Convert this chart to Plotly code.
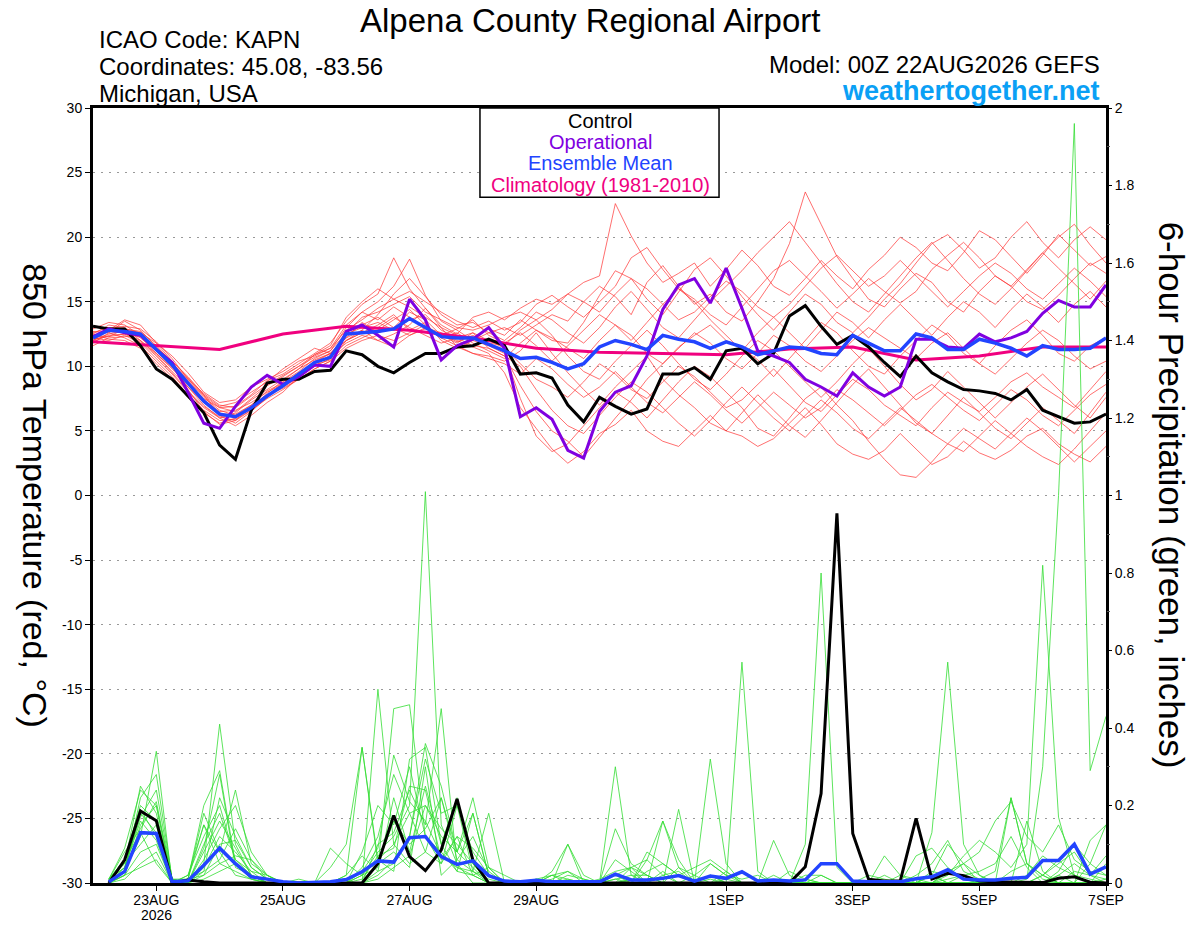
import pandas as pd
import plotly.graph_objects as go

# 6-hourly forecast steps, 00Z 22AUG2026 -> 00Z 07SEP2026
times = pd.date_range("2026-08-22 00:00", periods=65, freq="6h")
precip_times = times[1:]
clim_days = pd.date_range("2026-08-22", periods=17, freq="D")

# 850 hPa temperature (C)
control_temp = [13.1, 12.9, 12.9, 11.6, 9.8, 9.0, 7.7, 6.4, 3.9, 2.8, 6.6, 8.7, 9.0,
                9.0, 9.6, 9.7, 11.2, 10.9, 10.0, 9.5, 10.3, 11.0, 11.0, 11.5, 11.6, 12.1,
                11.6, 9.4, 9.5, 9.1, 7.0, 5.7, 7.6, 6.9, 6.3, 6.7, 9.4, 9.4, 9.9,
                9.0, 11.2, 11.4, 10.2, 11.0, 13.9, 14.7, 13.1, 11.7, 12.4, 11.5, 10.3, 9.2,
                10.8, 9.5, 8.8, 8.2, 8.1, 7.9, 7.4, 8.2, 6.6, 6.1, 5.6, 5.7, 6.3]
oper_temp = [12.3, 12.9, 12.6, 12.4, 11.3, 10.3, 8.0, 5.6, 5.2, 6.9, 8.4, 9.3, 8.6,
             9.2, 10.1, 10.0, 12.7, 13.2, 12.4, 11.5, 15.2, 13.6, 10.5, 11.6, 12.1, 13.0,
             11.4, 6.1, 6.8, 5.9, 3.5, 2.9, 6.5, 8.0, 8.5, 10.8, 14.4, 16.3, 16.8,
             14.9, 17.6, 14.5, 11.2, 10.8, 10.3, 9.0, 8.4, 7.7, 9.5, 8.4, 7.7, 8.4,
             12.1, 12.1, 11.5, 11.4, 12.5, 11.9, 12.2, 12.7, 14.1, 15.1, 14.6, 14.6, 16.3]
mean_temp = [12.2, 12.8, 12.7, 12.5, 11.3, 10.1, 8.7, 7.3, 6.3, 6.1, 6.8, 7.7, 8.5,
             9.4, 10.3, 10.7, 12.5, 12.6, 12.7, 12.9, 13.7, 13.0, 12.3, 12.2, 12.2, 11.7,
             11.2, 10.6, 10.7, 10.3, 9.8, 10.2, 11.5, 12.0, 11.7, 11.3, 12.4, 12.1, 11.9,
             11.4, 11.9, 11.5, 10.9, 11.2, 11.5, 11.4, 11.0, 10.9, 12.4, 11.8, 11.2, 11.2,
             12.5, 12.2, 11.3, 11.3, 12.1, 11.8, 11.4, 10.8, 11.6, 11.3, 11.3, 11.4, 12.2]
clim_temp = [11.9, 11.6, 11.3, 12.5, 13.1, 12.8, 12.2, 11.4, 11.1, 11.0, 10.9,
             11.35, 11.5, 10.5, 10.8, 11.5, 11.5]

temp_members = [
    [12.5, 13.2, 13.0, 12.0, 11.0, 9.8, 8.6, 7.5, 6.8, 6.9, 7.8, 8.9, 9.4,
     10.2, 11.0, 11.8, 13.5, 14.8, 15.6, 18.4, 16.0, 14.5, 13.2, 12.5, 13.8, 14.2,
     13.6, 14.5, 15.2, 14.8, 15.6, 16.5, 17.0, 22.6, 20.1, 18.0, 16.5, 17.2, 18.0,
     16.2, 17.5, 19.0, 17.8, 16.2, 15.5, 16.8, 18.2, 17.0, 16.0, 17.5, 18.6, 20.0,
     19.2, 18.0, 17.4, 18.8, 20.5, 19.8, 18.5, 17.2, 18.6, 20.2, 19.0, 17.8, 18.5],
    [12.0, 12.5, 12.8, 12.2, 11.2, 10.0, 8.2, 6.5, 5.5, 5.8, 6.9, 7.8, 8.3,
     9.0, 9.8, 10.4, 12.0, 12.8, 12.0, 11.5, 12.4, 13.0, 12.6, 12.0, 11.5, 11.0,
     9.5, 6.8, 5.2, 3.6, 2.5, 3.4, 4.8, 5.5, 6.6, 5.0, 4.2, 3.8, 5.0,
     6.2, 5.0, 4.6, 3.8, 4.4, 5.6, 6.8, 5.5, 4.0, 3.2, 2.8, 3.5, 4.8,
     3.6, 2.4, 3.0, 4.2, 3.3, 2.8, 3.5, 4.6, 5.2, 4.0, 3.2, 2.6, 3.8],
    [11.8, 12.6, 13.5, 12.8, 11.5, 10.4, 9.2, 7.8, 6.2, 5.6, 6.5, 7.6, 8.8,
     9.6, 10.6, 11.2, 13.0, 14.2, 15.0, 16.2, 18.3, 15.5, 13.5, 12.8, 12.0, 12.6,
     13.0, 12.4, 13.2, 14.0, 13.5, 15.0, 16.2, 15.4, 14.0, 16.5, 17.8, 16.2, 14.8,
     15.6, 14.2, 13.5, 15.0, 16.8, 19.5, 23.5, 21.0, 18.5, 16.8, 15.2, 14.6, 16.0,
     17.2, 16.5, 15.0, 14.2, 15.8, 17.0, 16.2, 15.0, 14.4, 15.5, 16.8, 18.0, 17.2],
    [12.2, 12.0, 12.4, 11.8, 10.6, 9.4, 8.0, 6.8, 6.0, 6.4, 7.4, 8.2, 9.0,
     9.8, 10.5, 11.0, 12.2, 13.4, 12.6, 13.0, 14.2, 13.6, 12.4, 11.8, 12.6, 12.0,
     11.4, 10.2, 9.0, 8.4, 7.6, 8.8, 10.2, 9.4, 8.2, 7.5, 8.8, 10.0, 9.2,
     8.0, 6.8, 7.4, 8.6, 9.8, 8.5, 7.2, 6.5, 7.8, 9.0, 8.2, 7.0, 6.2,
     5.4, 6.8, 8.0, 7.2, 6.5, 7.6, 8.8, 9.5, 8.4, 7.6, 6.8, 8.2, 9.6],
    [12.6, 13.0, 12.9, 12.6, 11.8, 10.8, 9.5, 8.0, 7.2, 7.4, 8.4, 9.0, 9.6,
     10.4, 10.8, 11.4, 12.8, 13.6, 14.5, 15.2, 15.8, 15.0, 14.2, 13.5, 13.0, 13.5,
     12.8, 13.4, 14.8, 15.5, 14.6, 13.8, 15.0, 16.2, 18.4, 19.2, 17.5, 16.0, 15.2,
     14.0, 13.2, 14.6, 16.0, 17.4, 18.2, 17.0, 15.8, 14.5, 15.6, 16.8, 15.8, 14.9,
     15.8, 17.5, 18.6, 19.6, 18.4, 17.0, 16.2, 17.5, 18.8, 17.6, 16.4, 15.2, 16.6],
    [12.4, 12.7, 12.6, 12.0, 10.9, 9.6, 8.4, 7.0, 6.0, 5.4, 6.2, 7.2, 8.0,
     9.2, 10.0, 10.6, 12.5, 13.0, 13.4, 12.8, 13.6, 14.0, 12.8, 12.2, 12.6, 11.4,
     10.8, 8.5, 6.5, 5.0, 4.2, 3.0, 4.5, 6.0, 7.4, 9.0, 10.2, 11.5, 12.4,
     13.2, 12.0, 11.4, 10.5, 9.2, 10.6, 12.0, 13.4, 12.6, 11.2, 10.0, 9.4, 10.8,
     12.0, 13.2, 12.4, 11.0, 10.2, 11.6, 12.8, 13.6, 12.4, 11.0, 10.4, 11.6, 12.2],
    [11.6, 12.2, 12.3, 12.4, 11.2, 10.2, 8.8, 7.4, 6.5, 6.6, 7.2, 8.0, 8.6,
     9.4, 10.2, 10.8, 11.8, 12.4, 12.0, 12.5, 13.2, 14.5, 13.0, 11.5, 11.0, 10.8,
     10.4, 11.2, 12.6, 11.0, 9.5, 8.2, 7.0, 8.4, 9.6, 10.8, 9.0, 7.8, 6.8,
     5.6, 5.0, 6.4, 7.8, 6.6, 5.4, 4.5, 5.8, 7.2, 8.6, 9.8, 8.4, 7.0,
     5.6, 4.8, 6.2, 7.6, 6.4, 5.2, 4.4, 5.6, 6.8, 5.8, 4.8, 6.4, 8.0],
    [12.9, 13.4, 13.2, 12.4, 11.4, 10.0, 8.4, 7.2, 6.4, 6.0, 6.8, 7.9, 8.9,
     9.8, 10.9, 11.6, 13.8, 15.0, 16.0, 15.2, 14.6, 13.8, 13.0, 12.4, 12.2, 12.9,
     12.4, 13.6, 12.8, 12.0, 11.8, 13.4, 15.5, 17.4, 16.8, 15.2, 14.0, 15.8, 17.5,
     18.4, 17.0, 15.4, 14.0, 12.8, 14.2, 15.6, 14.8, 13.4, 12.6, 13.8, 15.2, 16.4,
     18.0, 19.5, 20.2, 19.0, 17.6, 18.4, 20.0, 21.2, 19.6, 18.4, 19.8, 20.8, 19.8],
    [12.1, 12.3, 12.9, 12.7, 11.6, 10.3, 8.9, 7.6, 6.6, 6.2, 7.0, 8.1, 8.7,
     9.5, 10.3, 11.0, 12.0, 12.6, 13.2, 14.0, 12.8, 13.4, 12.0, 11.4, 12.0, 11.6,
     11.0, 7.5, 4.6, 3.4, 4.0, 5.4, 6.8, 8.0, 7.2, 6.0, 7.4, 8.8, 10.0,
     9.2, 8.0, 6.8, 5.2, 4.6, 6.0, 7.5, 8.4, 7.0, 5.8, 4.2, 2.8, 1.6,
     1.4, 2.6, 4.0, 5.2, 4.4, 3.6, 4.8, 6.0, 5.0, 3.8, 2.6, 3.8, 5.0],
    [12.3, 12.9, 13.1, 12.9, 11.9, 10.6, 9.0, 7.7, 6.8, 6.5, 7.5, 8.5, 9.2,
     10.0, 10.7, 11.2, 12.6, 13.8, 14.2, 14.8, 15.4, 14.2, 13.6, 13.0, 12.8, 13.2,
     13.8, 14.2, 13.6, 14.4, 15.6, 15.0, 14.2, 15.6, 16.8, 16.0, 14.8, 13.6, 14.2,
     15.4, 16.6, 15.8, 14.6, 13.8, 14.8, 16.2, 17.6, 18.6, 17.4, 16.2, 17.0, 18.2,
     17.0, 15.8, 14.6, 15.8, 17.0, 18.0, 17.2, 16.0, 15.2, 16.4, 17.6, 16.6, 15.4],
    [11.9, 12.4, 12.5, 12.3, 11.0, 9.9, 8.6, 7.2, 6.3, 6.3, 7.0, 7.8, 8.4,
     9.1, 10.1, 10.5, 11.6, 12.2, 12.8, 13.6, 14.4, 13.2, 12.2, 12.6, 11.8, 11.2,
     10.6, 11.8, 12.8, 12.2, 11.4, 10.6, 12.0, 13.2, 12.4, 11.0, 10.2, 11.4, 12.6,
     11.8, 10.6, 9.8, 11.0, 12.4, 11.6, 10.4, 9.6, 10.8, 12.0, 13.0, 12.2, 11.4,
     10.6, 11.8, 12.6, 11.4, 10.2, 9.4, 10.6, 11.8, 12.8, 12.0, 10.8, 9.8, 10.4],
    [12.7, 12.6, 12.2, 11.6, 10.4, 9.2, 7.8, 6.6, 5.8, 5.9, 6.6, 7.6, 8.6,
     9.4, 10.4, 11.0, 12.4, 13.2, 13.8, 13.0, 12.4, 12.9, 12.5, 11.9, 12.4, 11.8,
     11.6, 12.8, 13.6, 12.4, 10.8, 9.6, 9.0, 10.4, 11.6, 12.8, 11.6, 10.2, 9.0,
     8.2, 9.4, 10.8, 12.0, 11.2, 10.0, 8.8, 7.6, 8.8, 10.2, 11.4, 10.0, 8.6,
     7.4, 8.2, 9.6, 8.4, 7.2, 6.0, 7.2, 8.4, 9.4, 8.2, 7.0, 6.0, 7.6],
    [12.0, 12.8, 13.6, 13.2, 11.8, 10.4, 9.1, 7.8, 6.9, 7.2, 8.0, 8.8, 9.8,
     10.6, 11.4, 11.0, 12.2, 12.8, 14.0, 15.6, 16.8, 15.4, 14.0, 13.2, 13.4, 12.6,
     12.0, 13.0, 14.2, 13.6, 12.6, 11.8, 13.0, 14.6, 15.8, 14.4, 13.0, 12.2, 13.6,
     15.0, 16.2, 17.4, 18.8, 20.0, 21.2, 19.6, 18.0, 16.4, 15.0, 14.2, 15.6, 17.0,
     18.4, 19.6, 18.2, 16.8, 15.6, 14.8, 16.0, 17.4, 18.8, 20.0, 21.0, 19.4, 18.0],
    [12.4, 12.3, 12.5, 11.9, 10.8, 9.5, 8.1, 6.9, 6.1, 5.8, 6.6, 7.5, 8.2,
     9.0, 9.8, 10.4, 11.4, 12.0, 12.4, 12.0, 12.6, 13.2, 12.2, 11.6, 11.0, 10.6,
     10.2, 9.4, 10.6, 9.8, 8.6, 7.6, 8.4, 9.6, 8.4, 7.2, 6.4, 7.6, 8.8,
     7.8, 6.6, 5.6, 6.8, 8.0, 7.0, 6.0, 6.8, 8.2, 7.4, 6.4, 5.4, 6.6,
     7.8, 8.6, 7.6, 6.6, 5.8, 7.0, 8.2, 7.4, 6.2, 5.4, 6.6, 7.8, 8.6],
    [12.2, 13.0, 12.8, 12.6, 11.4, 10.2, 9.0, 7.9, 7.0, 6.8, 7.7, 8.6, 9.3,
     10.0, 10.9, 11.4, 13.2, 14.2, 13.6, 14.6, 13.8, 13.0, 12.4, 12.9, 13.6, 12.4,
     11.8, 12.6, 11.6, 10.4, 11.6, 12.8, 14.0, 13.2, 12.0, 13.4, 14.8, 16.0, 15.0,
     13.6, 12.4, 11.2, 12.6, 13.8, 12.6, 11.4, 12.8, 14.2, 13.4, 12.2, 13.6, 14.8,
     13.6, 12.4, 13.8, 15.0, 14.2, 13.0, 14.4, 15.6, 14.6, 13.4, 14.8, 15.8, 14.6],
    [12.5, 12.1, 12.0, 11.4, 10.2, 9.0, 7.6, 6.4, 5.6, 6.0, 6.9, 7.7, 8.5,
     9.3, 10.0, 10.9, 12.0, 12.6, 13.0, 13.8, 13.0, 12.4, 11.8, 12.2, 11.6, 11.4,
     10.8, 10.0, 8.2, 6.6, 5.4, 4.8, 6.2, 7.6, 8.8, 8.0, 6.8, 5.6, 4.6,
     5.8, 7.2, 8.4, 7.2, 6.0, 5.0, 6.2, 7.4, 6.4, 5.2, 4.4, 5.6, 6.8,
     5.8, 4.8, 4.0, 3.4, 4.6, 5.8, 4.8, 3.8, 3.0, 2.4, 3.6, 5.0, 6.4],
]

# 6-hour precipitation (inches), 06Z 22AUG onward
control_precip = [0, 0.06, 0.186, 0.161, 0, 0.008, 0.003, 0, 0, 0, 0, 0, 0, 0, 0, 0,
                  0, 0.05, 0.174, 0.068, 0.032, 0.085, 0.217, 0.059, 0, 0, 0, 0, 0, 0, 0, 0,
                  0, 0, 0, 0, 0, 0, 0, 0, 0, 0, 0, 0, 0.042, 0.231, 0.954, 0.128,
                  0.01, 0.005, 0.005, 0.167, 0.01, 0.025, 0.019, 0.005, 0.003, 0.002, 0.001, 0.001, 0.012, 0.016, 0.002, 0]
mean_precip = [0.003, 0.03, 0.13, 0.128, 0.003, 0.006, 0.046, 0.09, 0.05, 0.016, 0.01, 0.003, 0, 0.001, 0.003, 0.009,
               0.029, 0.057, 0.054, 0.117, 0.12, 0.068, 0.048, 0.057, 0.019, 0.005, 0.003, 0.007, 0.003, 0.003, 0.003, 0.003,
               0.023, 0.008, 0.008, 0.012, 0.019, 0.005, 0.018, 0.012, 0.029, 0.005, 0.008, 0.005, 0.008, 0.05, 0.05, 0.005,
               0.003, 0.003, 0.003, 0.011, 0.016, 0.034, 0.01, 0.008, 0.008, 0.012, 0.015, 0.058, 0.058, 0.1, 0.023, 0.042]

precip_members = [
    [0, .02, .15, .20, 0, 0, .05, .41, .10, .02, 0, 0, 0, 0, 0, 0,
     .02, .08, .12, .20, 1.01, .15, .05, 0, 0, 0, 0, 0, 0, 0, 0, 0,
     .02, 0, 0, 0, 0, 0, 0, 0, 0, 0, 0, 0, .10, .80, .04, 0,
     0, 0, 0, 0, 0, 0, 0, 0, 0, 0, 0, 0, .02, 0, 0, 0],
    [.01, .05, .25, .18, 0, .01, .20, .29, .05, .01, 0, 0, 0, 0, 0, .02,
     .35, .06, .03, .32, .35, .10, .03, .02, 0, 0, 0, 0, .02, .03, 0, 0,
     .30, .02, 0, 0, 0, 0, 0, 0, 0, 0, 0, 0, 0, 0, 0, 0,
     0, 0, 0, 0, .02, .10, .05, 0, 0, .22, .05, .02, 0, 0, 0, .01],
    [0, .03, .12, .34, 0, .02, .15, .08, .24, .05, .02, 0, 0, 0, 0, 0,
     0, .50, .10, .05, .08, .22, .06, .03, 0, 0, 0, 0, 0, 0, 0, 0,
     0, 0, 0, .16, .04, 0, 0, 0, .57, .03, 0, 0, 0, 0, 0, 0,
     0, 0, 0, 0, .13, .57, .10, .02, 0, 0, 0, 0, 0, 0, 0, 0],
    [.01, .06, .20, .16, .01, 0, .10, .18, .06, .02, 0, 0, 0, 0, .09, .05,
     .02, .04, .45, .46, .12, .08, .03, .18, .02, 0, 0, 0, 0, .10, .02, 0,
     .14, .05, .02, 0, .19, 0, .32, .05, 0, 0, .11, .02, 0, 0, 0, 0,
     0, .02, 0, 0, 0, 0, 0, 0, 0, 0, .01, .30, 1.00, 1.96, .29, .43],
    [0, .02, .08, .10, 0, .01, .03, .22, .12, .04, .01, 0, 0, 0, 0, 0,
     0, .02, .06, .12, .36, .25, .08, .22, .04, 0, 0, .01, 0, 0, 0, 0,
     0, .04, .06, .02, 0, 0, .02, 0, 0, 0, 0, 0, 0, 0, 0, 0,
     0, 0, 0, 0, 0, .02, .07, .11, .08, .04, .10, .82, .17, .02, 0, 0],
    [.01, .04, .18, .13, 0, 0, .06, .14, .20, .08, .02, 0, 0, 0, 0, 0,
     .04, .12, .28, .18, .20, .14, .10, .05, 0, 0, 0, 0, .01, .03, .01, 0,
     .06, .03, 0, 0, 0, .02, .05, .02, 0, 0, 0, 0, .02, .02, 0, 0,
     0, .07, .02, 0, 0, .03, .01, 0, 0, 0, 0, .02, .05, .08, .02, .01],
    [0, .03, .22, .28, .01, 0, .04, .12, .08, .03, .02, 0, 0, 0, 0, 0,
     .08, .20, .15, .30, .12, .05, .20, .08, .02, 0, 0, 0, 0, 0, 0, 0,
     0, 0, .06, .16, .06, 0, 0, .03, 0, 0, 0, .03, .01, 0, 0, 0,
     0, 0, 0, .01, .02, 0, .02, .03, .05, .12, .04, 0, .03, .10, .05, .15],
    [.01, .08, .14, .21, .01, .01, .02, .05, .03, .01, 0, 0, .01, 0, .04, .10,
     .35, .05, .08, .04, .30, .02, .06, .12, .03, 0, 0, 0, .03, .10, 0, 0,
     .01, 0, .08, .05, .02, 0, .01, 0, 0, 0, 0, 0, 0, 0, 0, 0,
     .02, .01, 0, .02, .05, .11, .03, .01, .03, .22, .05, .01, 0, 0, .11, .15],
    [0, .01, .05, .08, 0, 0, .09, .28, .04, .02, 0, 0, 0, 0, 0, 0,
     0, .10, .13, .24, .15, .45, .04, .03, .18, 0, 0, 0, 0, 0, 0, 0,
     0, 0, 0, 0, 0, 0, .05, .02, .01, .02, 0, 0, 0, 0, 0, 0,
     0, 0, 0, .07, .09, .04, .01, 0, 0, 0, .16, .03, 0, 0, .05, .02],
    [.01, .06, .13, .05, 0, .01, .15, .05, .07, .06, .02, 0, 0, 0, 0, .02,
     .07, .03, .22, .08, .25, .10, .22, .05, 0, 0, 0, 0, 0, .02, .01, 0,
     .02, .04, .02, 0, .04, .02, 0, 0, 0, 0, 0, 0, 0, 0, 0, 0,
     0, 0, 0, 0, .03, .02, .05, .08, .16, .21, .12, .08, .15, .06, .03, .02],
    [0, .04, .17, .24, .01, 0, .02, .10, .11, .04, .01, 0, 0, 0, 0, 0,
     0, .03, .05, .12, .32, .18, .20, .03, .01, 0, 0, 0, 0, 0, 0, .01,
     .03, .04, 0, .02, .03, 0, 0, .01, 0, 0, 0, 0, 0, .02, 0, 0,
     0, 0, 0, 0, 0, 0, 0, 0, 0, .03, .05, .02, 0, .03, .02, .07],
    [.01, .05, .10, .15, 0, .01, .18, .08, .02, .01, 0, 0, 0, 0, 0, 0,
     .02, .06, .10, .18, .08, .05, .12, .02, .04, .02, 0, 0, .02, .01, 0, 0,
     0, 0, .03, .05, .02, .04, .06, .03, 0, 0, .02, 0, 0, 0, 0, 0,
     0, 0, .02, .01, 0, .03, .05, .02, 0, 0, .02, .07, .04, .02, .01, 0],
    [0, .03, .19, .12, 0, 0, .08, .16, .09, .02, 0, 0, 0, 0, 0, 0,
     0, .05, .16, .10, .14, .22, .08, .04, 0, 0, 0, 0, 0, 0, 0, 0,
     0, .01, 0, 0, 0, 0, 0, 0, 0, 0, 0, 0, 0, 0, 0, 0,
     0, 0, 0, 0, 0, .01, .02, 0, 0, 0, 0, 0, 0, 0, 0, 0],
    [.01, .09, .24, .20, .01, 0, .03, .06, .14, .06, .01, 0, 0, 0, 0, 0,
     .03, .09, .33, .21, .16, .07, .04, .02, 0, 0, 0, 0, 0, .01, 0, 0,
     .01, .02, .02, 0, 0, 0, .02, 0, 0, 0, 0, 0, .01, 0, 0, 0,
     0, 0, 0, 0, .02, 0, 0, 0, 0, 0, 0, 0, .02, .05, .02, 0],
    [0, .02, .04, .06, 0, 0, .01, .03, .05, .02, 0, 0, 0, 0, 0, 0,
     0, .01, .04, .07, .20, .12, .08, .18, .02, 0, 0, .01, .02, 0, 0, 0,
     0, 0, 0, .03, 0, 0, 0, 0, 0, 0, 0, 0, 0, 0, 0, 0,
     0, 0, 0, 0, 0, 0, 0, 0, 0, 0, 0, 0, 0, 0, 0, 0],
    [.01, .04, .16, .11, 0, .02, .12, .20, .06, .03, 0, 0, 0, 0, 0, 0,
     .01, .07, .09, .25, .24, .06, .12, .09, .04, 0, 0, 0, 0, 0, 0, 0,
     0, .01, 0, 0, 0, 0, 0, 0, 0, 0, 0, 0, 0, 0, 0, 0,
     0, 0, 0, 0, 0, 0, 0, 0, 0, 0, 0, .02, .06, .02, 0, .05],
]

tick_dates = ["2026-08-23", "2026-08-25", "2026-08-27", "2026-08-29",
              "2026-09-01", "2026-09-03", "2026-09-05", "2026-09-07"]
tick_labels = ["23AUG", "25AUG", "27AUG", "29AUG", "1SEP", "3SEP", "5SEP", "7SEP"]
year_label = "2026"
temp_ticks = list(range(-30, 31, 5))

FONT = "Liberation Sans, Arial, sans-serif"

fig = go.Figure()

for m in temp_members:
    fig.add_trace(go.Scatter(x=times, y=m, mode="lines",
                             line=dict(color="rgba(255,55,55,0.9)", width=0.8)))
for m in precip_members:
    fig.add_trace(go.Scatter(x=precip_times, y=m, mode="lines", yaxis="y2",
                             line=dict(color="#33dd33", width=0.8)))

fig.add_trace(go.Scatter(x=precip_times, y=control_precip, mode="lines", yaxis="y2",
                         line=dict(color="black", width=3)))
fig.add_trace(go.Scatter(x=precip_times, y=mean_precip, mode="lines", yaxis="y2",
                         line=dict(color="#2244ff", width=3.5)))

fig.add_trace(go.Scatter(x=clim_days, y=clim_temp, mode="lines",
                         line=dict(color="#f0007f", width=3)))
fig.add_trace(go.Scatter(x=times, y=control_temp, mode="lines",
                         line=dict(color="black", width=3)))
fig.add_trace(go.Scatter(x=times, y=oper_temp, mode="lines",
                         line=dict(color="#8000e0", width=3)))
fig.add_trace(go.Scatter(x=times, y=mean_temp, mode="lines",
                         line=dict(color="#2244ff", width=3.5)))

fig.update_layout(
    width=1200, height=927,
    margin=dict(l=93, r=94, t=108, b=44, autoexpand=False),
    paper_bgcolor="white", plot_bgcolor="white",
    showlegend=False,
    font=dict(family=FONT, size=14, color="black"),
    xaxis=dict(
        range=[times[0], times[-1]],
        tickvals=tick_dates, ticktext=tick_labels,
        ticks="outside", ticklen=5, tickcolor="black", ticklabelstandoff=-3,
        showgrid=False, zeroline=False, automargin=False,
        showline=True, linecolor="black", linewidth=3, mirror=True,
        tickfont=dict(size=14),
    ),
    yaxis=dict(
        range=[-30, 30],
        tickvals=temp_ticks, ticktext=[str(v) for v in temp_ticks],
        ticks="outside", ticklen=5, tickcolor="black",
        showgrid=True, gridcolor="#999999", griddash="2px,6px", gridwidth=1,
        zeroline=False, automargin=False,
        showline=True, linecolor="black", linewidth=3, mirror=True,
        tickfont=dict(size=14),
    ),
    yaxis2=dict(
        range=[0, 2], overlaying="y", side="right",
        dtick=0.2, ticks="outside", ticklen=5, tickcolor="black",
        minor=dict(dtick=0.1, ticks="outside", ticklen=3, tickcolor="#555555"),
        showgrid=False, zeroline=False, automargin=False,
        tickfont=dict(size=14),
    ),
)

# legend box
fig.add_shape(type="rect", xref="paper", yref="paper",
              x0=0.382, x1=0.618, y0=0.885, y1=1.0,
              line=dict(color="black", width=1.5), fillcolor="white", layer="above")

annotations = [
    dict(text="Alpena County Regional Airport", x=0.491, y=1.1123, size=33, color="black", anchor="center"),
    dict(text="ICAO Code: KAPN", x=0.004, y=1.088, size=24, color="black", anchor="left"),
    dict(text="Coordinates: 45.08, -83.56", x=0.004, y=1.054, size=24, color="black", anchor="left"),
    dict(text="Michigan, USA", x=0.004, y=1.019, size=24, color="black", anchor="left"),
    dict(text="Model: 00Z 22AUG2026 GEFS", x=0.996, y=1.056, size=24, color="black", anchor="right"),
    dict(text="<b>weathertogether.net</b>", x=0.996, y=1.022, size=27, color="#0aa0f5", anchor="right"),
    dict(text="Control", x=0.5005, y=0.983, size=20, color="black", anchor="center"),
    dict(text="Operational", x=0.5005, y=0.956, size=20, color="#8000e0", anchor="center"),
    dict(text="Ensemble Mean", x=0.5005, y=0.929, size=20, color="#2244ff", anchor="center"),
    dict(text="Climatology (1981-2010)", x=0.5005, y=0.901, size=20, color="#f0007f", anchor="center"),
]
for a in annotations:
    fig.add_annotation(text=a["text"], xref="paper", yref="paper", x=a["x"], y=a["y"],
                       xanchor=a["anchor"], yanchor="middle", showarrow=False,
                       font=dict(family=FONT, size=a["size"], color=a["color"]))

# year line under the first date tick
fig.add_annotation(text=year_label, xref="x", yref="paper", x=tick_dates[0], y=-0.041,
                   xanchor="center", yanchor="middle", showarrow=False,
                   font=dict(family=FONT, size=14, color="black"))

fig.add_annotation(text="850 hPa Temperature (red, °C)", xref="paper", yref="paper",
                   x=-0.057, y=0.5, textangle=90, showarrow=False,
                   xanchor="center", yanchor="middle",
                   font=dict(family=FONT, size=34, color="black"))
fig.add_annotation(text="6-hour Precipitation (green, inches)", xref="paper", yref="paper",
                   x=1.065, y=0.5, textangle=90, showarrow=False,
                   xanchor="center", yanchor="middle",
                   font=dict(family=FONT, size=35, color="black"))

# drop the default 8px page margin so the 1200x927 figure fills the window exactly
fig.write_html("out.html", config={"displayModeBar": False},
               post_script="document.body.style.margin='0px';")
